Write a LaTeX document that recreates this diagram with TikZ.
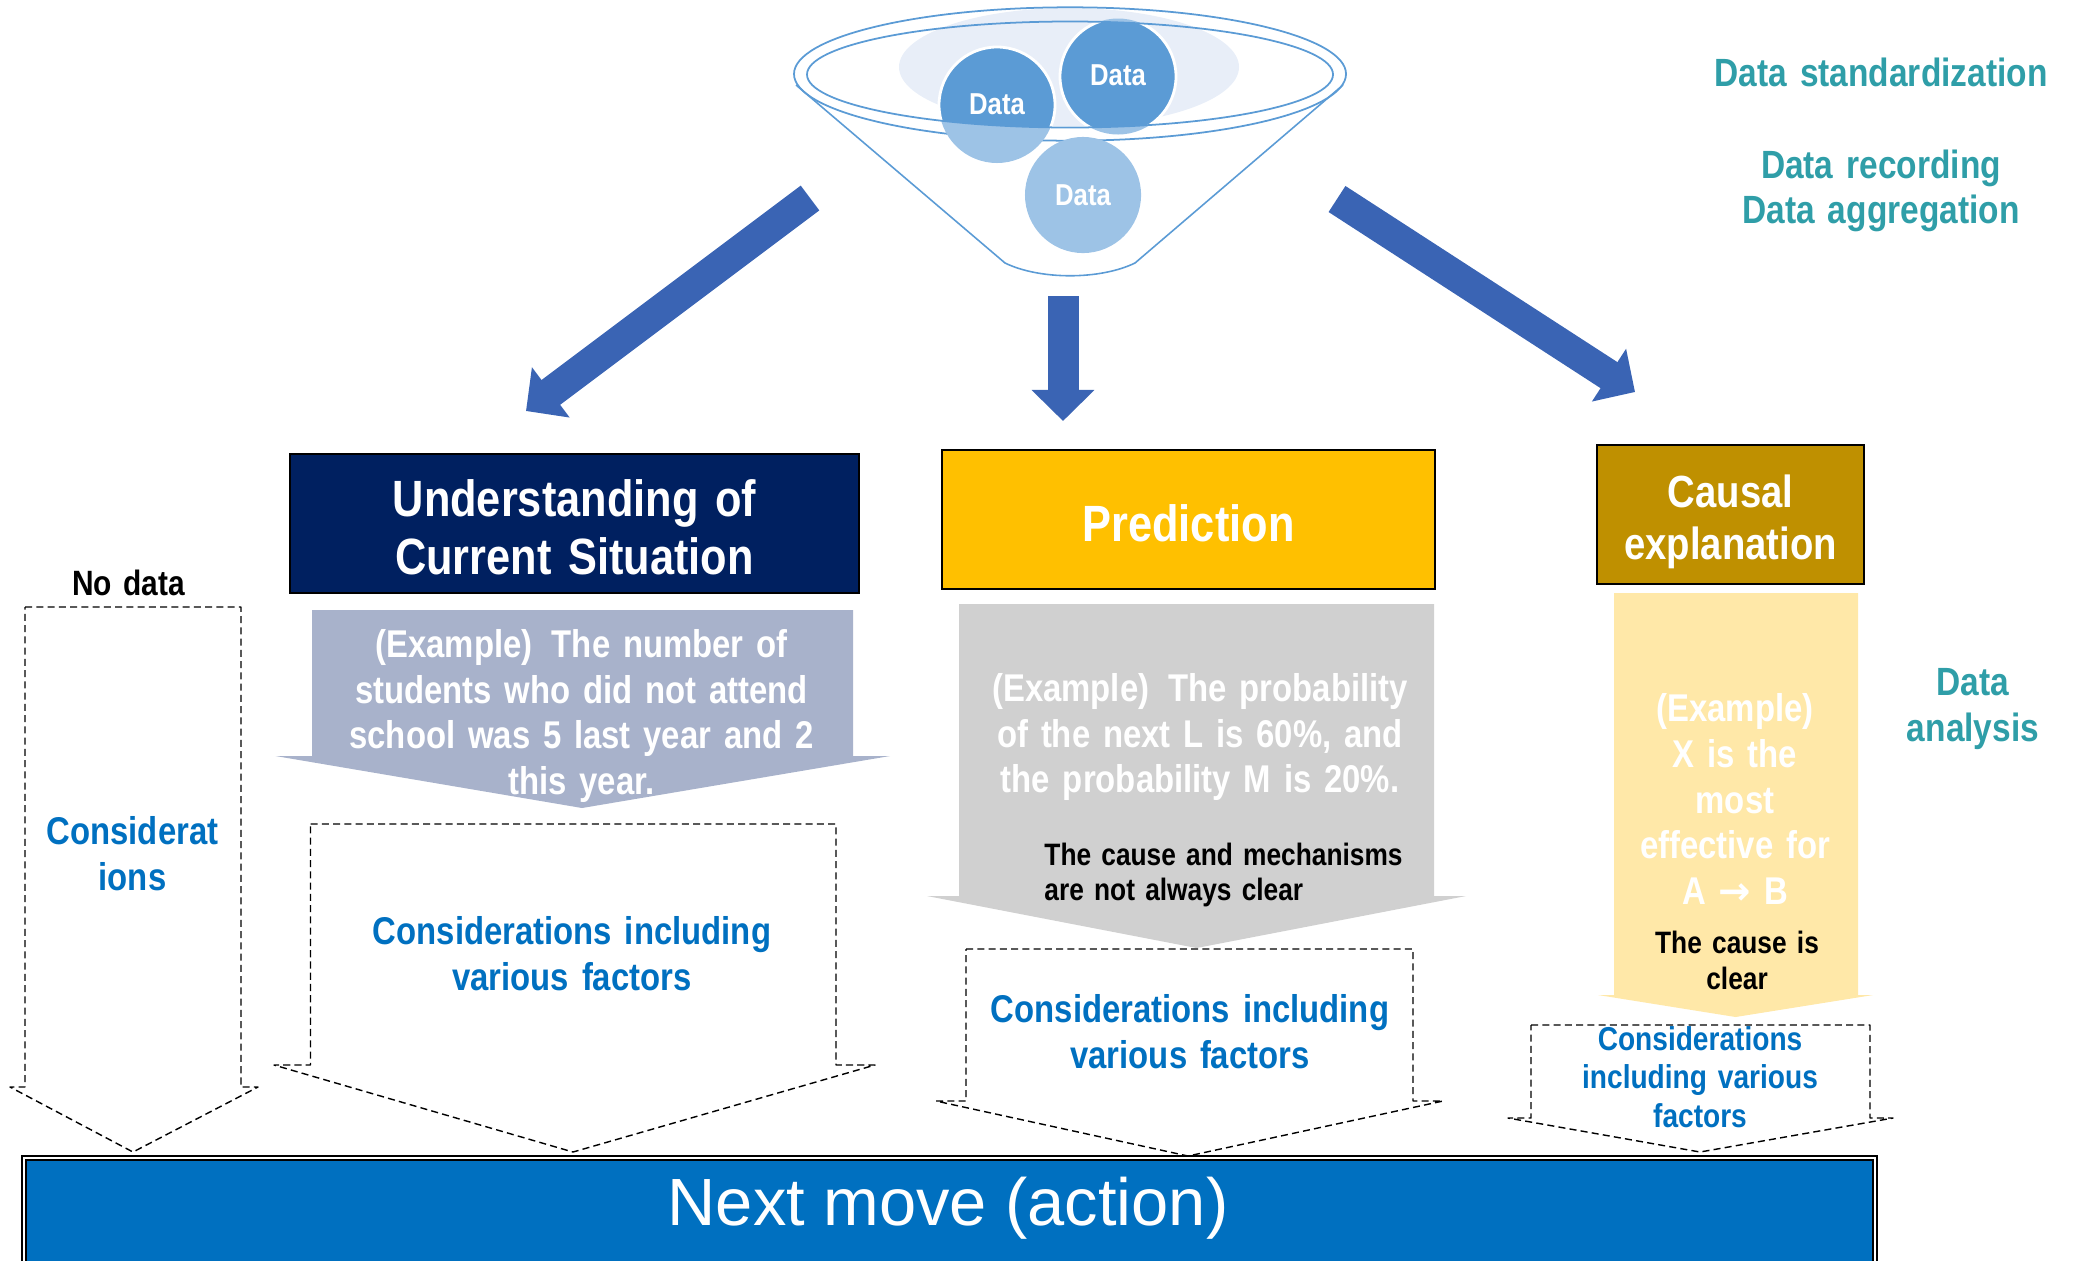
\documentclass[tikz,border=0pt]{standalone}
\usepackage{fontspec}
\setmainfont[FakeStretch=0.85,WordSpace=1.4]{Liberation Sans}
\newfontfamily\nextfont[FakeStretch=1.0]{Liberation Sans}
\newfontfamily\arrowfont{DejaVu Sans}
\usepackage{tikz}
\usetikzlibrary{arrows.meta}
\definecolor{databar}{HTML}{3A64B4}
\definecolor{datadark}{HTML}{5B9BD5}
\definecolor{datalight}{HTML}{9DC3E6}
\definecolor{datapale}{HTML}{E8EEF8}
\definecolor{tealtext}{HTML}{2F9EA8}
\definecolor{bluetext}{HTML}{0070C0}
\definecolor{navybox}{HTML}{002060}
\definecolor{amberbox}{HTML}{FFC000}
\definecolor{goldbox}{HTML}{BF9000}
\definecolor{slatefill}{HTML}{A8B2CB}
\definecolor{greyfill}{HTML}{D0D0D0}
\definecolor{creamfill}{HTML}{FFE8A8}
\tikzset{
  databall/.style={circle,minimum size=1.16cm,inner sep=0pt,text=white,font=\fontsize{8.6}{10}\bfseries\selectfont},
  headbox/.style={draw=black,line width=0.5pt},
  headtext/.style={text=white,align=center,font=\fontsize{14.5}{16.5}\bfseries\selectfont},
  sidetext/.style={text=tealtext,align=center,font=\fontsize{11.2}{13}\bfseries\selectfont},
  considertext/.style={text=bluetext,align=center,font=\fontsize{11}{13}\bfseries\selectfont},
  exampletext/.style={text=white,align=center,font=\fontsize{11}{13}\bfseries\selectfont},
  blacktext/.style={text=black,align=center,font=\fontsize{8.8}{10.2}\bfseries\selectfont},
  dashblock/.style={draw=black,line width=0.4pt,dash pattern=on 2pt off 1.2pt,line join=round},
  bigarrow/.style={databar,line width=0.31cm,-{Triangle[length=0.31cm,width=0.61cm]}},
}
\begin{document}
\begin{tikzpicture}[x=0.01cm,y=-0.01cm]
  \useasboundingbox (0,0) rectangle (2077,1260);
  % funnel
  \fill[datapale] (1069,67) ellipse [x radius=170,y radius=59];
  \draw[datadark,line width=0.45pt] (796,85) -- (1005,263) .. controls (1040,280) and (1100,280) .. (1135,263) -- (1343,85);
  \draw[datadark,line width=0.5pt] (1070,74) ellipse [x radius=276,y radius=66.7];
  \fill[datalight] (997,105) circle [radius=58];
  \fill[datalight] (1118,76.5) circle [radius=58];
  \begin{scope}
    \clip (1070,74.5) ellipse [x radius=263,y radius=53];
    \draw[white,line width=0.8pt,fill=datadark] (997,105) circle [radius=58];
    \draw[white,line width=0.8pt,fill=datadark] (1118,76.5) circle [radius=58];
  \end{scope}
  \draw[datadark,line width=0.5pt] (1070,74.5) ellipse [x radius=263,y radius=53];
  \node[databall] (dataA) at (997,104) {Data};
  \node[databall] (dataB) at (1118,75.5) {Data};
  \node[databall,fill=datalight] (dataC) at (1083,195) {Data};
  % thick arrows
  \coordinate (leftTail) at (810,198);
  \coordinate (leftTip) at (526,411);
  \coordinate (midTail) at (1063,296);
  \coordinate (midTip) at (1063,421);
  \coordinate (rightTail) at (1337,199);
  \coordinate (rightTip) at (1635,392);
  \draw[bigarrow] (leftTail) -- (leftTip);
  \draw[bigarrow] (midTail) -- (midTip);
  \draw[bigarrow] (rightTail) -- (rightTip);
  % side texts
  \node[sidetext] (standardize) at (1881,72) {Data standardization};
  \node[sidetext] (record) at (1881,168) {Data recording};
  \node[sidetext] (aggregate) at (1881,213) {Data aggregation};
  \node[sidetext] (analysis) at (1973,709) {Data\\analysis};
  % head boxes
  \draw[headbox,fill=navybox] (290,454) rectangle (859,593);
  \draw[headbox,fill=amberbox] (942,450) rectangle (1435,589);
  \draw[headbox,fill=goldbox] (1597,445) rectangle (1864,584);
  \node[headtext] (current) at (574.5,527) {Understanding of\\Current Situation};
  \node[headtext] (predict) at (1188.5,523) {Prediction};
  \node[headtext,font=\fontsize{12.8}{14.6}\bfseries\selectfont] (causal) at (1730.5,522) {Causal\\explanation};
  % example arrows
  \fill[slatefill] (312,610) -- (853,610) -- (853,756) -- (890,756) -- (582,808) -- (275.5,756) -- (312,756) -- cycle;
  \fill[greyfill] (959,604) -- (1434,604) -- (1434,896) -- (1466,896) -- (1196.5,948) -- (927,896) -- (959,896) -- cycle;
  \fill[creamfill] (1614,593) -- (1858,593) -- (1858,995) -- (1873,995) -- (1735.5,1017) -- (1598,995) -- (1614,995) -- cycle;
  \node[exampletext] (exampleA) at (581.5,716) {(Example)\, The number of\\students who did not attend\\school was 5 last year and 2\\this year.};
  \node[exampletext] (exampleB) at (1200,737) {(Example)\, The probability\\of the next L is 60\%, and\\the probability M is 20\%.};
  \node[exampletext] (exampleC) at (1735,799) {(Example)\\X is the\\most\\effective for\\A {\arrowfont\bfseries →} B};
  \node[blacktext,align=left,anchor=west] (unclear) at (1032,875) {The cause and mechanisms\\are not always clear};
  \node[blacktext] (clear) at (1737,960) {The cause is\\clear};
  % dashed arrows
  \draw[dashblock] (25,607) -- (241,607) -- (241,1087) -- (258,1087) -- (133,1152) -- (10,1087) -- (25,1087) -- cycle;
  \draw[dashblock] (310.5,824) -- (836,824) -- (836,1065) -- (875,1065) -- (573,1152) -- (274,1065) -- (310.5,1065) -- cycle;
  \draw[dashblock] (966,949) -- (1413,949) -- (1413,1101) -- (1443,1101) -- (1188,1156) -- (936,1101) -- (966,1101) -- cycle;
  \draw[dashblock] (1531,1025) -- (1870,1025) -- (1870,1118) -- (1893,1118) -- (1700,1152) -- (1508,1118) -- (1531,1118) -- cycle;
  \node[blacktext,font=\fontsize{10}{12}\bfseries\selectfont] (nodata) at (128.5,583) {No data};
  \node[considertext] (considerA) at (132.5,854) {Considerat\\ions};
  \node[considertext] (considerB) at (572,954) {Considerations including\\various factors};
  \node[considertext] (considerC) at (1190,1032) {Considerations including\\various factors};
  \node[considertext,font=\fontsize{9.4}{11}\bfseries\selectfont] (considerD) at (1700,1077) {Considerations\\including various\\factors};
  % next move
  \node[draw=black,double=white,double distance=0.6pt,line width=0.5pt,fill=bluetext,minimum width=18.5cm,minimum height=1.8cm,anchor=north west] (nextmove) at (23,1157) {};
  \node[text=white,font=\nextfont\fontsize{19}{22}\selectfont] (nexttext) at (948,1208) {Next move (action)};
\end{tikzpicture}
\end{document}
